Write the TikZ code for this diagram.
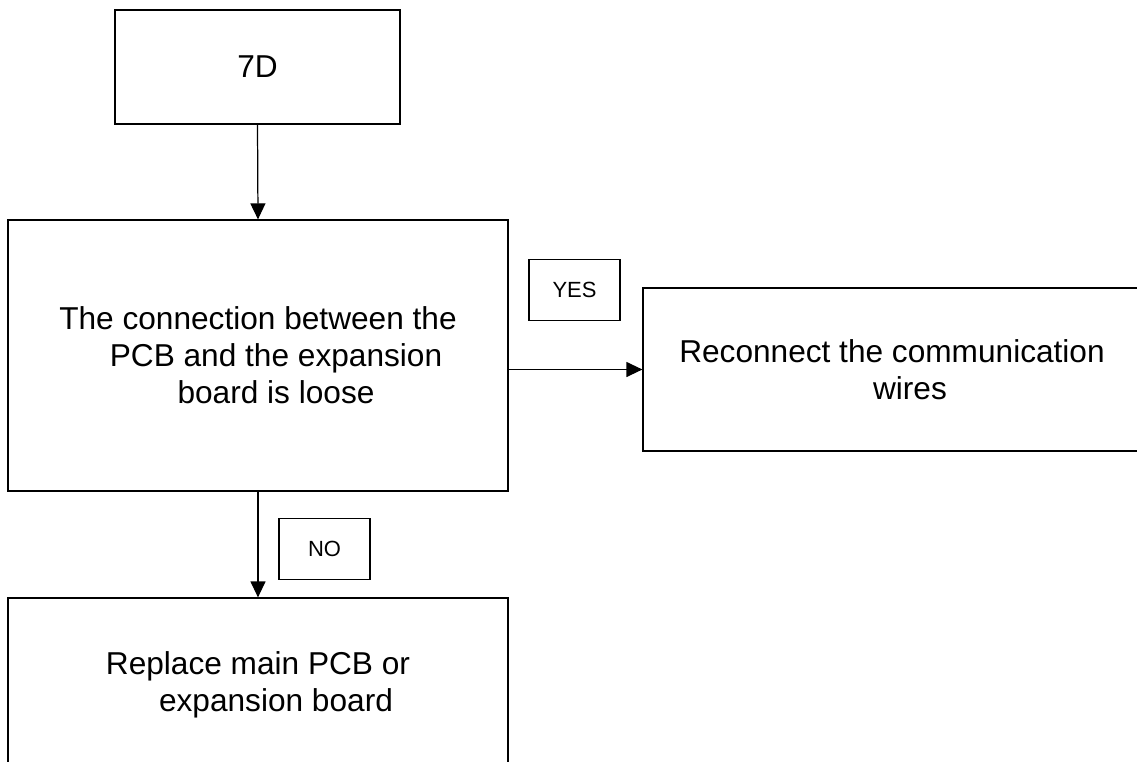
\documentclass[tikz,border=0pt]{standalone}
\usepackage{fontspec}
\setmainfont{Liberation Sans}
\usetikzlibrary{arrows.meta}
\begin{document}
\begin{tikzpicture}[line join=miter, >={Triangle[length=0.32cm,width=0.3cm]},
	box/.style={draw, line width=0.7pt, inner sep=0pt, align=center, font=\fontsize{18}{21}\selectfont},
	tag/.style={draw, line width=0.7pt, inner sep=0pt, minimum width=1.82cm, minimum height=1.22cm, font=\fontsize{12.5}{15}\selectfont}]
	\useasboundingbox (0,0) rectangle (22.74,-15.24);
	\clip (0,0) rectangle (22.74,-15.24);
	\node[box, minimum width=5.7cm, minimum height=2.28cm] (start) at (5.15,-1.34) {7D};
	\node[box, minimum width=10cm, minimum height=5.42cm] (check) at (5.16,-7.11)
		{The connection between the\\\hspace*{0.72cm}PCB and the expansion\\\hspace*{0.72cm}board is loose};
	\node[box, minimum width=9.96cm, minimum height=3.26cm] (fix) at (17.84,-7.39)
		{Reconnect the communication\\\hspace*{0.72cm}wires};
	\node[box, minimum width=10cm, minimum height=3.48cm] (replace) at (5.16,-13.7)
		{Replace main PCB or\\\hspace*{0.72cm}expansion board};
	\node[tag] (yes) at (11.49,-5.8) {YES};
	\node[tag] (no) at (6.49,-10.98) {NO};
	% connectors
	\draw[line width=0.7pt,->] (start.south)--(check.north);
	\draw[line width=0.7pt,->] (check.east |- fix.west)--(fix.west);
	\draw[line width=0.7pt,->] (check.south)--(replace.north);
\end{tikzpicture}
\end{document}
